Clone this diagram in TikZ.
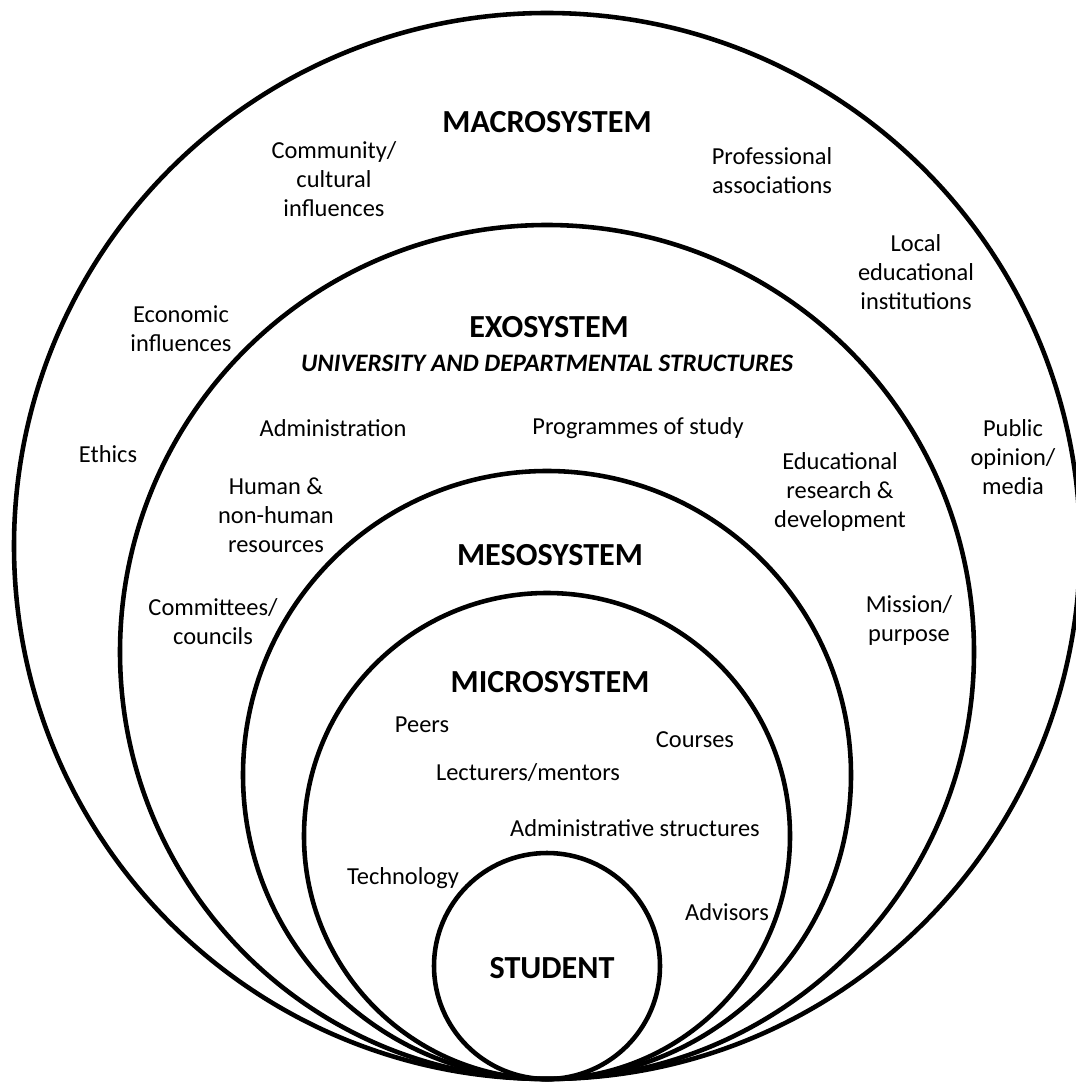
\documentclass[tikz,border=0pt]{standalone}
\usepackage{fontspec}
\setmainfont{Carlito}
\usetikzlibrary{positioning, calc}
\tikzset{
  ring/.style={draw=black, line width=2.6pt},
  systitle/.style={font=\fontsize{18.3}{22}\selectfont\bfseries, inner sep=0pt},
  subtitle/.style={font=\fontsize{14.3}{17}\selectfont\bfseries\itshape, inner sep=0pt},
  factor/.style={font=\fontsize{13.9}{16.5}\selectfont, align=center, inner sep=0pt},
}

\begin{document}
\begin{tikzpicture}[x=0.02cm, y=-0.02cm]
  \useasboundingbox (0,0) rectangle (1075,1084);

  % rings, all touching at the bottom
  \coordinate (base) at (547,1079);
  \foreach \r/\name in {533/macro, 427/exo, 304/meso, 243/micro, 113/student} {
    \coordinate (\name c) at ($(base)+(0,-\r)$);
    \draw[ring] (\name c) circle[radius=\r*0.02cm];
  }

  % macrosystem
  \node[systitle] (macrot) at (547,122) {MACROSYSTEM};
  \node[factor] (community) at (334,179) {Community/\\cultural\\influences};
  \node[factor] (profass) at (772,171) {Professional\\associations};
  \node[factor] (localedu) at (916,272) {Local\\educational\\institutions};
  \node[factor] (economic) at (181,329) {Economic\\influences};
  \node[factor] (ethics) at (108,454) {Ethics};
  \node[factor] (public) at (1013,457) {Public\\opinion/\\media};

  % exosystem
  \node[systitle] (exot) at (549,327) {EXOSYSTEM};
  \node[subtitle] (exosub) at (547,363) {UNIVERSITY AND DEPARTMENTAL STRUCTURES};
  \node[factor] (admin) at (333,428) {Administration};
  \node[factor] (programmes) at (638,428) {Programmes of study};
  \node[factor] (edres) at (840,492) {Educational\\research \&\\development};
  \node[factor] (resources) at (276,515) {Human \&\\non-human\\resources};
  \node[factor] (committees) at (213,622) {Committees/\\councils};
  \node[factor] (mission) at (909,620) {Mission/\\purpose};

  % mesosystem
  \node[systitle] (mesot) at (550,555) {MESOSYSTEM};

  % microsystem
  \node[systitle] (microt) at (550,682) {MICROSYSTEM};
  \node[factor] (peers) at (422,725) {Peers};
  \node[factor] (courses) at (695,740) {Courses};
  \node[factor] (lecturers) at (528,773) {Lecturers/mentors};
  \node[factor] (adminstruct) at (635,828) {Administrative structures};
  \node[factor] (technology) at (403,878) {Technology};
  \node[factor] (advisors) at (727,912) {Advisors};

  % student
  \node[systitle] (studentt) at (552,968) {STUDENT};
\end{tikzpicture}
\end{document}
